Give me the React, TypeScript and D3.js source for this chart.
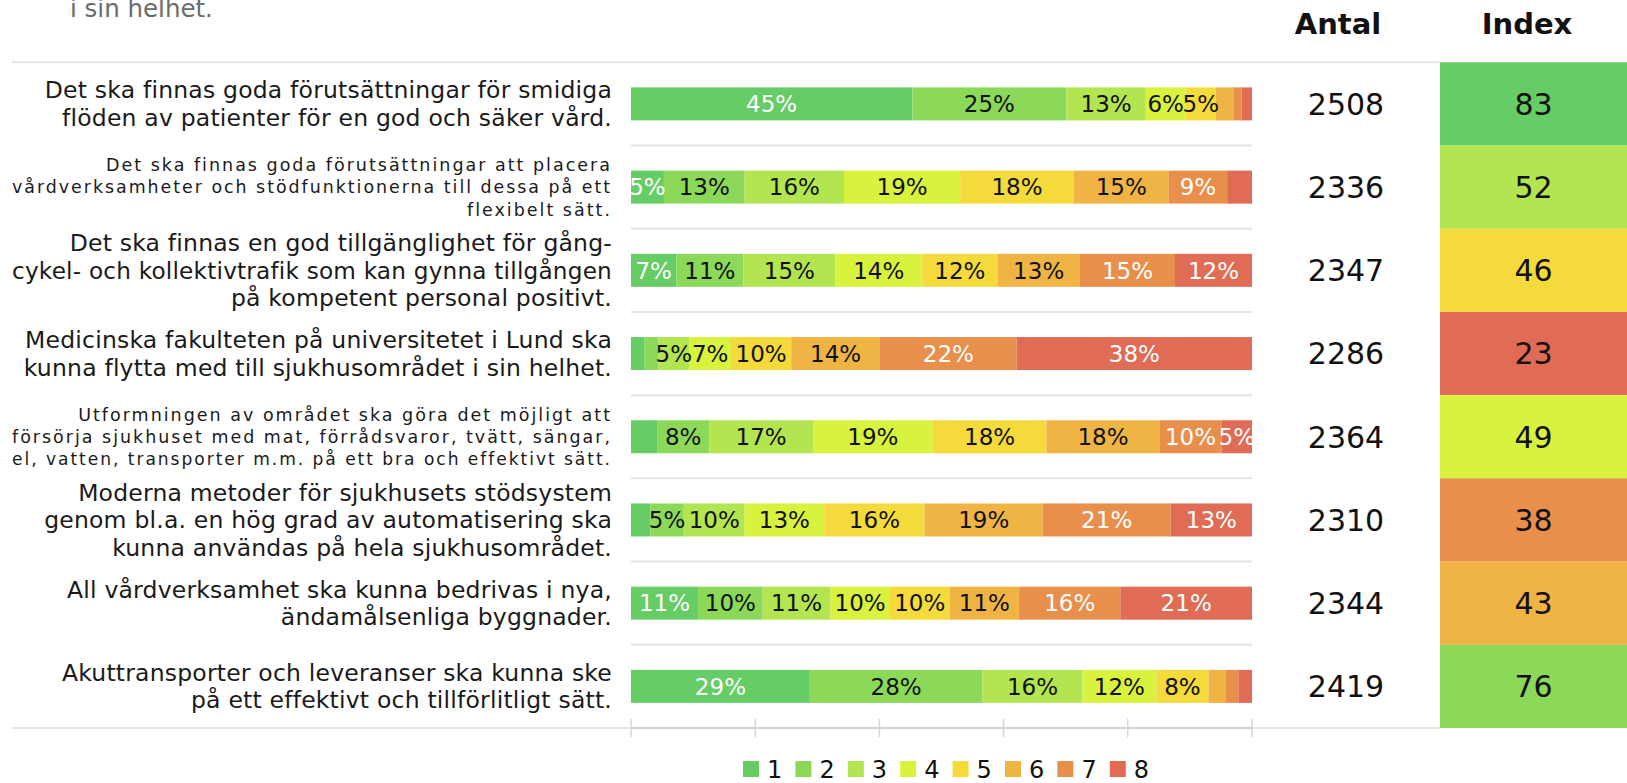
import React, { useLayoutEffect, useRef } from "react";
import * as d3 from "d3";

// answer scale 1..8 (1 = best)
const categories = ["1", "2", "3", "4", "5", "6", "7", "8"];
const categoryColors = ["#66cc66", "#8cd95a", "#b2e54f", "#d8f23d", "#f5da3b", "#efb444", "#e88f4c", "#e06c56"];

const statements: string[][] = [
  ["Det ska finnas goda förutsättningar för smidiga", "flöden av patienter för en god och säker vård."],
  ["Det ska finnas goda förutsättningar att placera", "vårdverksamheter och stödfunktionerna till dessa på ett", "flexibelt sätt."],
  ["Det ska finnas en god tillgänglighet för gång-", "cykel- och kollektivtrafik som kan gynna tillgången", "på kompetent personal positivt."],
  ["Medicinska fakulteten på universitetet i Lund ska", "kunna flytta med till sjukhusområdet i sin helhet."],
  ["Utformningen av området ska göra det möjligt att", "försörja sjukhuset med mat, förrådsvaror, tvätt, sängar,", "el, vatten, transporter m.m. på ett bra och effektivt sätt."],
  ["Moderna metoder för sjukhusets stödsystem", "genom bl.a. en hög grad av automatisering ska", "kunna användas på hela sjukhusområdet."],
  ["All vårdverksamhet ska kunna bedrivas i nya,", "ändamålsenliga byggnader."],
  ["Akuttransporter och leveranser ska kunna ske", "på ett effektivt och tillförlitligt sätt."],
];

// share of answers (%) per category, one array per statement
const shares: number[][] = [
  [45.3, 24.8, 12.8, 6.4, 4.9, 2.9, 1.2, 1.7],
  [5.3, 13.0, 16.0, 18.7, 18.3, 15.3, 9.4, 4.0],
  [7.3, 10.8, 14.8, 14.0, 12.1, 13.3, 15.3, 12.4],
  [2.2, 2.2, 5.0, 6.7, 9.7, 14.3, 22.0, 37.9],
  [4.2, 8.4, 16.7, 19.3, 18.3, 18.2, 10.0, 4.9],
  [3.1, 5.4, 9.8, 12.8, 16.2, 19.0, 20.6, 13.1],
  [10.8, 10.4, 10.9, 9.6, 9.6, 11.2, 16.3, 21.2],
  [28.8, 27.8, 16.1, 11.9, 8.4, 2.8, 2.0, 2.2],
];

const counts = [2508, 2336, 2347, 2286, 2364, 2310, 2344, 2419];
const indexValues = [83, 52, 46, 23, 49, 38, 43, 76];
const indexBreaks = [30, 40, 45, 47.5, 50, 60, 80];

const W = 1627;
const H = 783;
const FONT = "'DejaVu Sans', sans-serif";
const LABEL_RIGHT = 612;
const LABEL_MAX = 600;

export default function App() {
  const svgRef = useRef<SVGSVGElement>(null);

  // squeeze any statement line that would run past the left edge
  useLayoutEffect(() => {
    if (!svgRef.current) return;
    d3.select(svgRef.current)
      .selectAll<SVGTextElement, unknown>("text.stmt")
      .each(function () {
        const len = this.getComputedTextLength();
        if (len > LABEL_MAX) {
          this.setAttribute("textLength", String(LABEL_MAX));
          this.setAttribute("lengthAdjust", "spacingAndGlyphs");
        }
      });
  }, []);

  const rows = d3.range(statements.length);
  const y = d3.scaleBand<number>().domain(rows).range([62.3, 728]).padding(0);
  const x = d3.scaleLinear().domain([0, 100]).range([631, 1252]);
  const color = d3.scaleOrdinal<string, string>().domain(categories).range(categoryColors);
  const indexColor = d3.scaleThreshold<number, string>()
    .domain(indexBreaks)
    .range(categoryColors.slice().reverse());
  const legendX = d3.scaleBand<string>().domain(categories).range([743, 743 + 8 * 52.4]);

  const barH = 33;
  const compact = new Set([1, 4]); // the wordy statements use a smaller font
  const whiteText = new Set(["1", "7", "8"]);
  const antalX = 1346;
  const indexX0 = 1440;

  return (
    <svg ref={svgRef} width={W} height={H} style={{ position: "absolute", left: 0, top: 0, background: "#fff" }} fontFamily={FONT}>
      {/* tail of the title, cut off at the top */}
      <text x={70} y={17} fontSize={24.5} fill="#6b6b6b">i sin helhet.</text>

      <text x={1338} y={34} fontSize={29} fontWeight="bold" textAnchor="middle" fill="#111">Antal</text>
      <text x={1527} y={34} fontSize={29} fontWeight="bold" textAnchor="middle" fill="#111">Index</text>

      {/* top and bottom rules */}
      <line x1={12} x2={indexX0} y1={62.3} y2={62.3} stroke="#e4e4e4" strokeWidth={2} />
      <line x1={12} x2={indexX0} y1={728} y2={728} stroke="#e4e4e4" strokeWidth={2} />

      {rows.map((r) => {
        const top = y(r)!;
        const cy = top + y.bandwidth() / 2;
        const vals = shares[r];
        const ends = Array.from(d3.cumsum(vals));
        const small = compact.has(r);
        const lh = small ? 22.3 : 27.5;
        const lines = statements[r];
        return (
          <g key={r}>
            {r > 0 && (
              <line x1={x(0)} x2={x(100)} y1={top} y2={top} stroke="#e4e4e4" strokeWidth={2} />
            )}
            {lines.map((ln, i) => (
              <text
                key={i}
                className="stmt"
                x={LABEL_RIGHT}
                y={cy + (i - (lines.length - 1) / 2) * lh}
                dy="0.35em"
                textAnchor="end"
                fontSize={small ? 17.5 : 23.5}
                letterSpacing={small ? 2.0 : 0.2}
                fill="#1a1a1a"
              >
                {ln}
              </text>
            ))}
            {vals.map((v, i) => {
              const x0 = x(ends[i] - v);
              const x1 = x(ends[i]);
              return (
                <rect key={i} x={x0} y={cy - barH / 2} width={x1 - x0} height={barH} fill={color(categories[i])} />
              );
            })}
            {vals.map((v, i) =>
              v >= 4.5 ? (
                <text
                  key={"t" + i}
                  x={x(ends[i] - v / 2)}
                  y={cy}
                  dy="0.36em"
                  textAnchor="middle"
                  fontSize={23}
                  fill={whiteText.has(categories[i]) ? "#fff" : "#111"}
                >
                  {Math.round(v) + "%"}
                </text>
              ) : null
            )}
            <text x={antalX} y={cy} dy="0.36em" textAnchor="middle" fontSize={30} fill="#111">
              {counts[r]}
            </text>
            <rect x={indexX0} y={top} width={W - indexX0} height={y.bandwidth()} fill={indexColor(indexValues[r])} />
            <text x={(indexX0 + W) / 2} y={cy} dy="0.36em" textAnchor="middle" fontSize={30} fill="#111">
              {indexValues[r]}
            </text>
          </g>
        );
      })}

      {/* x axis: domain + unlabeled ticks */}
      <line x1={x(0)} x2={x(100)} y1={728} y2={728} stroke="#d2d2d2" strokeWidth={2} />
      {x.ticks(5).map((t) => (
        <line key={t} x1={x(t)} x2={x(t)} y1={719} y2={737} stroke="#d6d6d6" strokeWidth={1.5} />
      ))}

      {/* legend */}
      {categories.map((c) => (
        <g key={c} transform={`translate(${legendX(c)},761)`}>
          <rect width={16} height={16} fill={color(c)} />
          <text x={24} y={17} fontSize={24} fill="#111">{c}</text>
        </g>
      ))}
    </svg>
  );
}
